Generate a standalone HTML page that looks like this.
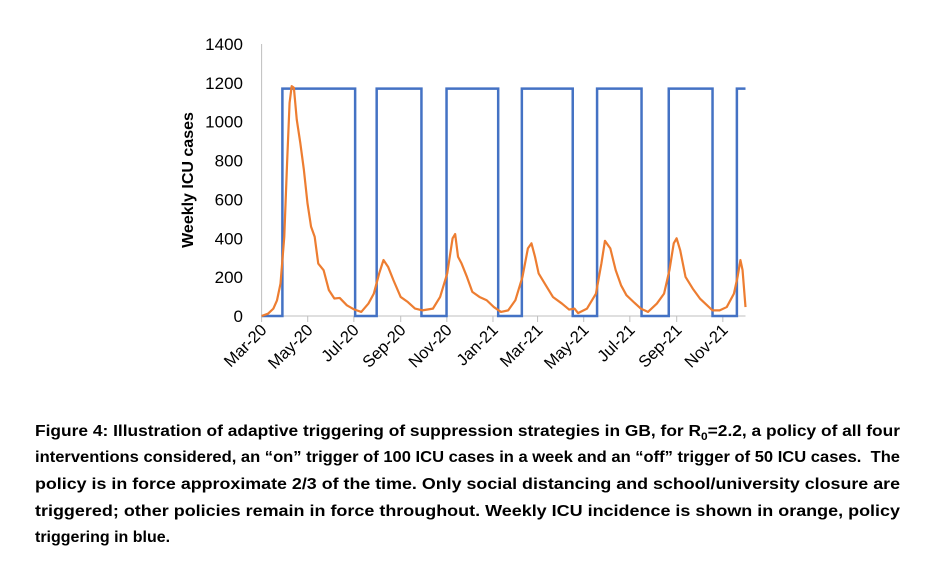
<!DOCTYPE html>
<html><head><meta charset="utf-8">
<style>
html,body{margin:0;padding:0;background:#fff;width:925px;height:582px;overflow:hidden}
#chart{position:absolute;left:0;top:0}
.cap{position:absolute;left:35px;display:inline-block;font-family:"Liberation Sans",sans-serif;font-weight:bold;font-size:16px;color:#000;white-space:nowrap;transform-origin:0 0;line-height:20px}
</style></head><body>
<svg id="chart" width="925" height="400" xmlns="http://www.w3.org/2000/svg"></svg>
<div id="caption">
<div class="cap" style="top:422px">Figure 4: Illustration of adaptive triggering of suppression strategies in GB, for R<sub style="font-size:11px;line-height:0">0</sub>=2.2, a policy of all four</div>
<div class="cap" style="top:448px">interventions considered, an “on” trigger of 100 ICU cases in a week and an “off” trigger of 50 ICU cases.&nbsp; The</div>
<div class="cap" style="top:475px">policy is in force approximate 2/3 of the time. Only social distancing and school/university closure are</div>
<div class="cap" style="top:502px">triggered; other policies remain in force throughout. Weekly ICU incidence is shown in orange, policy</div>
<div class="cap last" style="top:528px">triggering in blue.</div>
</div>
<script>
// ---- data ----
const yTicks = [0,200,400,600,800,1000,1200,1400];
const xTickDays = [0,61,122,184,245,306,365,426,487,549,610];
const xTickLabels = ["Mar-20","May-20","Jul-20","Sep-20","Nov-20","Jan-21","Mar-21","May-21","Jul-21","Sep-21","Nov-21"];
const policyLevel = 1170;
const policyOnDays = [27.5,152.2,244.6,344.2,443.7,538.5,628.6];
const policyOffDays = [123.7,211.4,312.9,411.5,502.5,596.4,640];
const icuDays = [0,8.5,15.6,20.4,25,30,33.7,37,39.8,42.7,46.5,51.2,55.9,60.7,65.4,70.2,74.9,82,89,96.2,103.3,112.8,122.3,131.8,141.3,148.4,155.5,161.2,167.3,174.4,183.9,193.4,202.9,212.4,226.6,236.1,245.5,252.6,256,259.8,264.5,271.6,278.7,288.2,297.7,307.2,316.6,326.1,335.6,345,352.2,356.9,361.6,366.4,375.9,385.3,397.2,406.7,413.8,418.5,430.4,442.2,449.4,454.1,461.2,468.3,475.4,482.5,492,501.5,511,522.8,532.3,539.4,545.1,548.9,553.6,560.7,570.2,579.7,589.2,596.3,605.8,615.2,624.7,629.5,633.3,636.1,640];
const icuValues = [0,12,38,81,167,408,787,1097,1183,1175,1011,890,753,580,460,408,270,236,133,90,93,55,34,21,64,115,219,288,253,184,98,72,38,29,38,98,219,400,422,305,270,201,124,98,81,46,21,29,81,201,348,374,305,219,158,98,64,33,38,15,38,115,270,387,348,236,158,107,72,38,21,64,115,236,374,400,339,201,141,90,55,29,29,46,115,201,288,236,46];

// ---- axes ----
const X0=261.6, X1=745.5, D0=0, D1=640;
const Y0=316, Y1=44, V1=1400;
const xs = d => X0 + (d-D0)/(D1-D0)*(X1-X0);
const ys = v => Y0 - v/V1*(Y0-Y1);
const NS="http://www.w3.org/2000/svg";
const svg=document.getElementById('chart');
function mk(tag,attrs){const e=document.createElementNS(NS,tag);for(const k in attrs)e.setAttribute(k,attrs[k]);svg.appendChild(e);return e;}

const ya=mk('line',{x1:X0,y1:Y1,x2:X0,y2:Y0,stroke:'#bfbfbf','stroke-width':1});


yTicks.forEach(v=>{
  const t=mk('text',{x:243,y:ys(v)+6,'text-anchor':'end','font-family':'Liberation Sans, sans-serif','font-size':17,fill:'#000'});
  t.textContent=v;
  
  
});
const yt=mk('text',{x:0,y:0,'text-anchor':'middle','font-family':'Liberation Sans, sans-serif','font-size':16,'font-weight':'bold',fill:'#000',transform:'translate(193,180) rotate(-90)'});
yt.textContent='Weekly ICU cases';



const xa=mk('line',{x1:X0,y1:Y0,x2:X1,y2:Y0,stroke:'#bfbfbf','stroke-width':1});


xTickDays.forEach((d,i)=>{
  const tk=mk('line',{x1:xs(d),y1:Y0,x2:xs(d),y2:Y0+6,stroke:'#bfbfbf','stroke-width':1});
  
  
  const x=xs(d)+6, y=Y0+15;
  const t=mk('text',{x:0,y:0,'text-anchor':'end','font-family':'Liberation Sans, sans-serif','font-size':16.5,fill:'#000',transform:`translate(${x},${y}) rotate(-45)`});
  t.textContent=xTickLabels[i];
  
  
});

let pd=`M${xs(0)},${ys(0)}`;
policyOnDays.forEach((on,i)=>{
  const off=policyOffDays[i];
  pd+=` L${xs(on)},${ys(0)} L${xs(on)},${ys(policyLevel)} L${xs(off)},${ys(policyLevel)}`;
  if(off<D1) pd+=` L${xs(off)},${ys(0)}`;
});
const pl=mk('path',{d:pd,fill:'none',stroke:'#4472c4','stroke-width':2.5,'stroke-linejoin':'miter'});



const id=icuDays.map((d,i)=>(i?'L':'M')+xs(d)+','+ys(icuValues[i])).join(' ');
const il=mk('path',{d:id,fill:'none',stroke:'#ed7d31','stroke-width':2.2,'stroke-linejoin':'round'});



document.querySelectorAll('.cap').forEach(c=>{
  const w=c.getBoundingClientRect().width;
  if(!c.classList.contains('last')){
    c.style.transform=`scaleX(${865/w})`;
  }
});
</script>
</body></html>
